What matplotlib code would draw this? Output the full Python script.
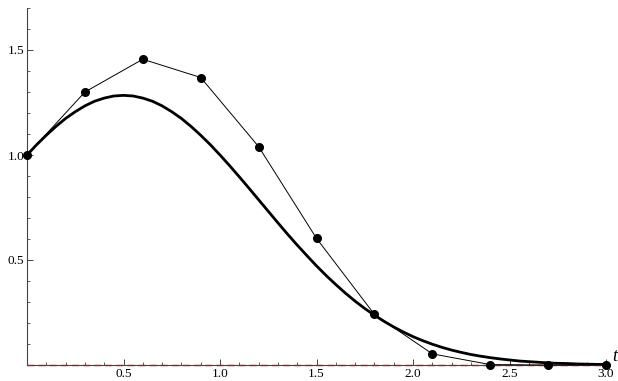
import numpy as np
import matplotlib
matplotlib.use('Agg')
import matplotlib.pyplot as plt
from matplotlib.ticker import MultipleLocator, FixedLocator

# Euler steps (h = 0.3)
t_euler = [0.0, 0.3, 0.6, 0.9, 1.2, 1.5, 1.8, 2.1, 2.4, 2.7, 3.0]
y_euler = [1.0, 1.30, 1.456, 1.369, 1.040, 0.603, 0.241, 0.053, 0.002, 0.0, 0.0]

# smooth curve, read at steps of 0.05
t_exact = [0.0, 0.05, 0.1, 0.15, 0.2, 0.25, 0.3, 0.35, 0.4, 0.45, 0.5,
           0.55, 0.6, 0.65, 0.7, 0.75, 0.8, 0.85, 0.9, 0.95, 1.0,
           1.05, 1.1, 1.15, 1.2, 1.25, 1.3, 1.35, 1.4, 1.45, 1.5,
           1.55, 1.6, 1.65, 1.7, 1.75, 1.8, 1.85, 1.9, 1.95, 2.0,
           2.05, 2.1, 2.15, 2.2, 2.25, 2.3, 2.35, 2.4, 2.45, 2.5,
           2.55, 2.6, 2.65, 2.7, 2.75, 2.8, 2.85, 2.9, 2.95, 3.0]
y_exact = [1.0, 1.049, 1.094, 1.136, 1.174, 1.206, 1.234, 1.256, 1.271, 1.281, 1.284,
           1.281, 1.271, 1.256, 1.234, 1.206, 1.174, 1.136, 1.094, 1.049, 1.0,
           0.949, 0.896, 0.842, 0.787, 0.732, 0.677, 0.623, 0.571, 0.521, 0.472,
           0.426, 0.383, 0.342, 0.304, 0.269, 0.237, 0.208, 0.181, 0.157, 0.135,
           0.116, 0.099, 0.084, 0.071, 0.060, 0.050, 0.042, 0.035, 0.029, 0.024,
           0.019, 0.016, 0.013, 0.010, 0.008, 0.007, 0.005, 0.004, 0.003, 0.003]

x_ticks = [0.5, 1.0, 1.5, 2.0, 2.5, 3.0]
y_ticks = [0.5, 1.0, 1.5]

plt.rcParams['font.family'] = ['Liberation Serif', 'DejaVu Serif']

fig = plt.figure(figsize=(6.18, 3.81), dpi=100)
ax = fig.add_axes([27 / 618, 16 / 381, 580 / 618, 357 / 381])
ax.set_xlim(0, 3.005)
ax.set_ylim(0, 1.7)

ax.plot(t_exact, y_exact, color='black', lw=2.0, zorder=3,
        solid_joinstyle='round', solid_capstyle='round')
ax.plot(t_euler, y_euler, color='black', lw=0.7, marker='o', ms=5.5, zorder=4, clip_on=False)
ax.plot([0, 3.0], [0, 0], color='#b22222', lw=1.0, ls=(0, (5, 3)), zorder=2, clip_on=False)

# Mathematica-like axes through the origin
for side in ['top', 'right']:
    ax.spines[side].set_visible(False)
for side in ['left', 'bottom']:
    ax.spines[side].set_color('#444444')
    ax.spines[side].set_linewidth(0.8)

ax.xaxis.set_major_locator(FixedLocator(x_ticks))
ax.yaxis.set_major_locator(FixedLocator(y_ticks))
ax.xaxis.set_minor_locator(MultipleLocator(0.1))
ax.yaxis.set_minor_locator(MultipleLocator(0.1))
ax.tick_params(which='major', direction='in', length=4, width=0.7, color='#444444',
               labelsize=9.5, pad=2)
ax.tick_params(which='minor', direction='in', length=2.5, width=0.6, color='#444444')
ax.set_xticklabels(['%.1f' % v for v in x_ticks])
ax.set_yticklabels(['%.1f' % v for v in y_ticks])

ax.text(3.03, 0.0, 't', fontsize=13, fontstyle='italic', va='bottom', ha='left',
        transform=ax.transData, clip_on=False)

fig.savefig('out.png', dpi=100)
